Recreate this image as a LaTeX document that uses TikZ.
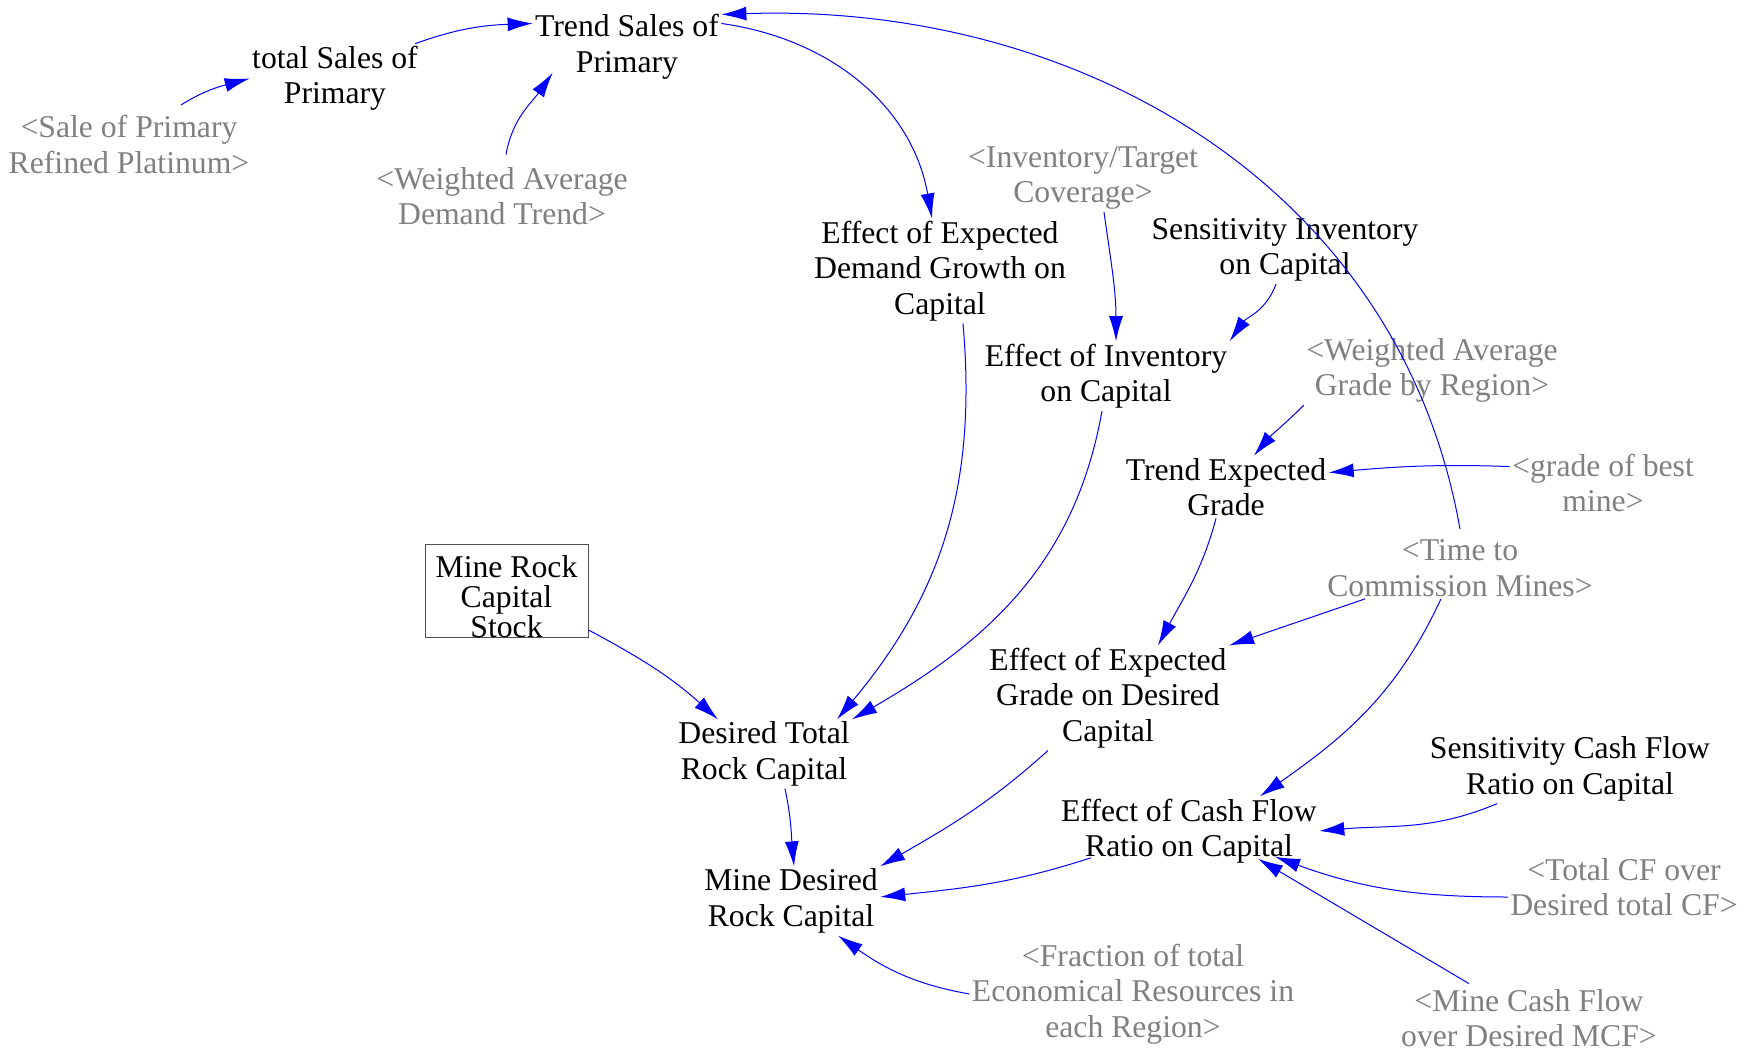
\documentclass[tikz,border=0pt]{standalone}
\usepackage{fontspec}
\setmainfont{Liberation Serif}
\usetikzlibrary{arrows.meta}
\definecolor{shadowgray}{RGB}{128,128,128}
\definecolor{boxgray}{RGB}{80,80,80}

\begin{document}
\begin{tikzpicture}[x=1pt,y=-1pt,line width=1pt,font=\fontsize{31.7}{35.5}\selectfont,
  var/.style={align=center,inner sep=2pt},
  shadow/.style={var,text=shadowgray},
  stock/.style={draw=boxgray,align=center,inner sep=0pt,minimum width=163pt,text height=93pt,text depth=0pt,font=\fontsize{31.7}{30}\selectfont},
  link/.style={blue,-{Latex[length=25pt,width=14pt]}}]
\useasboundingbox (0,0) rectangle (1754,1051);
\node[var] (tr) at (627,47) {Trend Sales of\\Primary};
\node[var] (ts) at (335,78.5) {total Sales of\\Primary};
\node[var] (eedg) at (940,271) {Effect of Expected\\Demand Growth on\\Capital};
\node[var] (sic) at (1285,250) {Sensitivity Inventory\\on Capital};
\node[var] (eic) at (1106,376) {Effect of Inventory\\on Capital};
\node[var] (teg) at (1226,487) {Trend Expected\\Grade};
\node[stock] (mrcs) at (506.5,591) {Mine Rock\\Capital\\Stock};
\node[var] (dtrc) at (764,754) {Desired Total\\Rock Capital};
\node[var] (eeg) at (1108,698) {Effect of Expected\\Grade on Desired\\Capital};
\node[var] (ecf) at (1189,831) {Effect of Cash Flow\\Ratio on Capital};
\node[var] (scf) at (1570,769) {Sensitivity Cash Flow\\Ratio on Capital};
\node[var] (mdrc) at (791,901) {Mine Desired\\Rock Capital};
\node[shadow] (spr) at (129,144.5) {<Sale of Primary\\Refined Platinum>};
\node[shadow] (wadt) at (502,196) {<Weighted Average\\Demand Trend>};
\node[shadow] (itc) at (1083,178) {<Inventory/Target\\Coverage>};
\node[shadow] (wagr) at (1432,370.5) {<Weighted Average\\Grade by Region>};
\node[shadow] (gbm) at (1603,483) {<grade of best\\mine>};
\node[shadow] (tcm) at (1460,568) {<Time to\\Commission Mines>};
\node[shadow] (tcf) at (1624,887) {<Total CF over\\Desired total CF>};
\node[shadow] (mcf) at (1529,1018) {<Mine Cash Flow\\over Desired MCF>};
\node[shadow] (fter) at (1133,994) {<Fraction of total\\Economical Resources in\\each Region>};
\draw[link] ([xshift=52pt,yshift=8pt]spr.north) to[out=32,in=195] (ts.west);
\draw[link] ([xshift=-5pt]ts.north east) to[out=20,in=182] (tr.166);
\draw[link] ([xshift=4pt,yshift=10pt]wadt.north) to[out=80,in=235] ([xshift=20pt,yshift=9pt]tr.south west);
\draw[link] (tr.14) to[out=-8,in=100] ([xshift=-8pt]eedg.north);
\draw[link] ([yshift=8pt]tcm.north) to[out=100,in=2] (tr.19);
\draw[link] ([xshift=21pt]itc.south) to[out=-82,in=90] ([xshift=10pt]eic.north);
\draw[link] ([xshift=-9pt]sic.south) to[out=-110,in=55] (eic.north east);
\draw[link] ([xshift=23pt]eedg.south) to[out=-85,in=50] ([xshift=73pt]dtrc.north);
\draw[link] ([xshift=-4pt]eic.south) to[out=-100,in=30] (dtrc.north east);
\draw[link] (wagr.south west) to[out=-135,in=50] ([xshift=28pt]teg.north);
\draw[link] (gbm.170) to[out=178,in=5] (teg.8);
\draw[link] ([xshift=-10pt]teg.south) to[out=-105,in=62] ([xshift=50pt]eeg.north);
\draw[link] ([xshift=-95pt]tcm.south) -- (eeg.north east);
\draw[link] ([xshift=-19pt]tcm.south) to[out=-115,in=35] ([xshift=71pt]ecf.north);
\draw[link] ([yshift=8pt]mrcs.south east) to[out=-28,in=138] ([xshift=-46pt]dtrc.north);
\draw[link] ([xshift=21pt]dtrc.south) to[out=-78,in=95] ([xshift=3pt]mdrc.north);
\draw[link] ([xshift=-60pt]eeg.south) to[out=-138,in=30] (mdrc.north east);
\draw[link] ([xshift=-98pt,yshift=8pt]ecf.south) to[out=-162,in=6] ([yshift=4pt]mdrc.east);
\draw[link] ([xshift=-73pt]scf.south) to[out=-157,in=5] (ecf.east);
\draw[link] ([yshift=-10pt]tcf.west) to[out=180,in=-20] ([xshift=86pt,yshift=9pt]ecf.south);
\draw[link] ([xshift=-60pt,yshift=3pt]mcf.north) -- ([xshift=69pt,yshift=7pt]ecf.south);
\draw[link] (fter.west) to[out=170,in=-35] ([xshift=47pt]mdrc.south);
\end{tikzpicture}
\end{document}
